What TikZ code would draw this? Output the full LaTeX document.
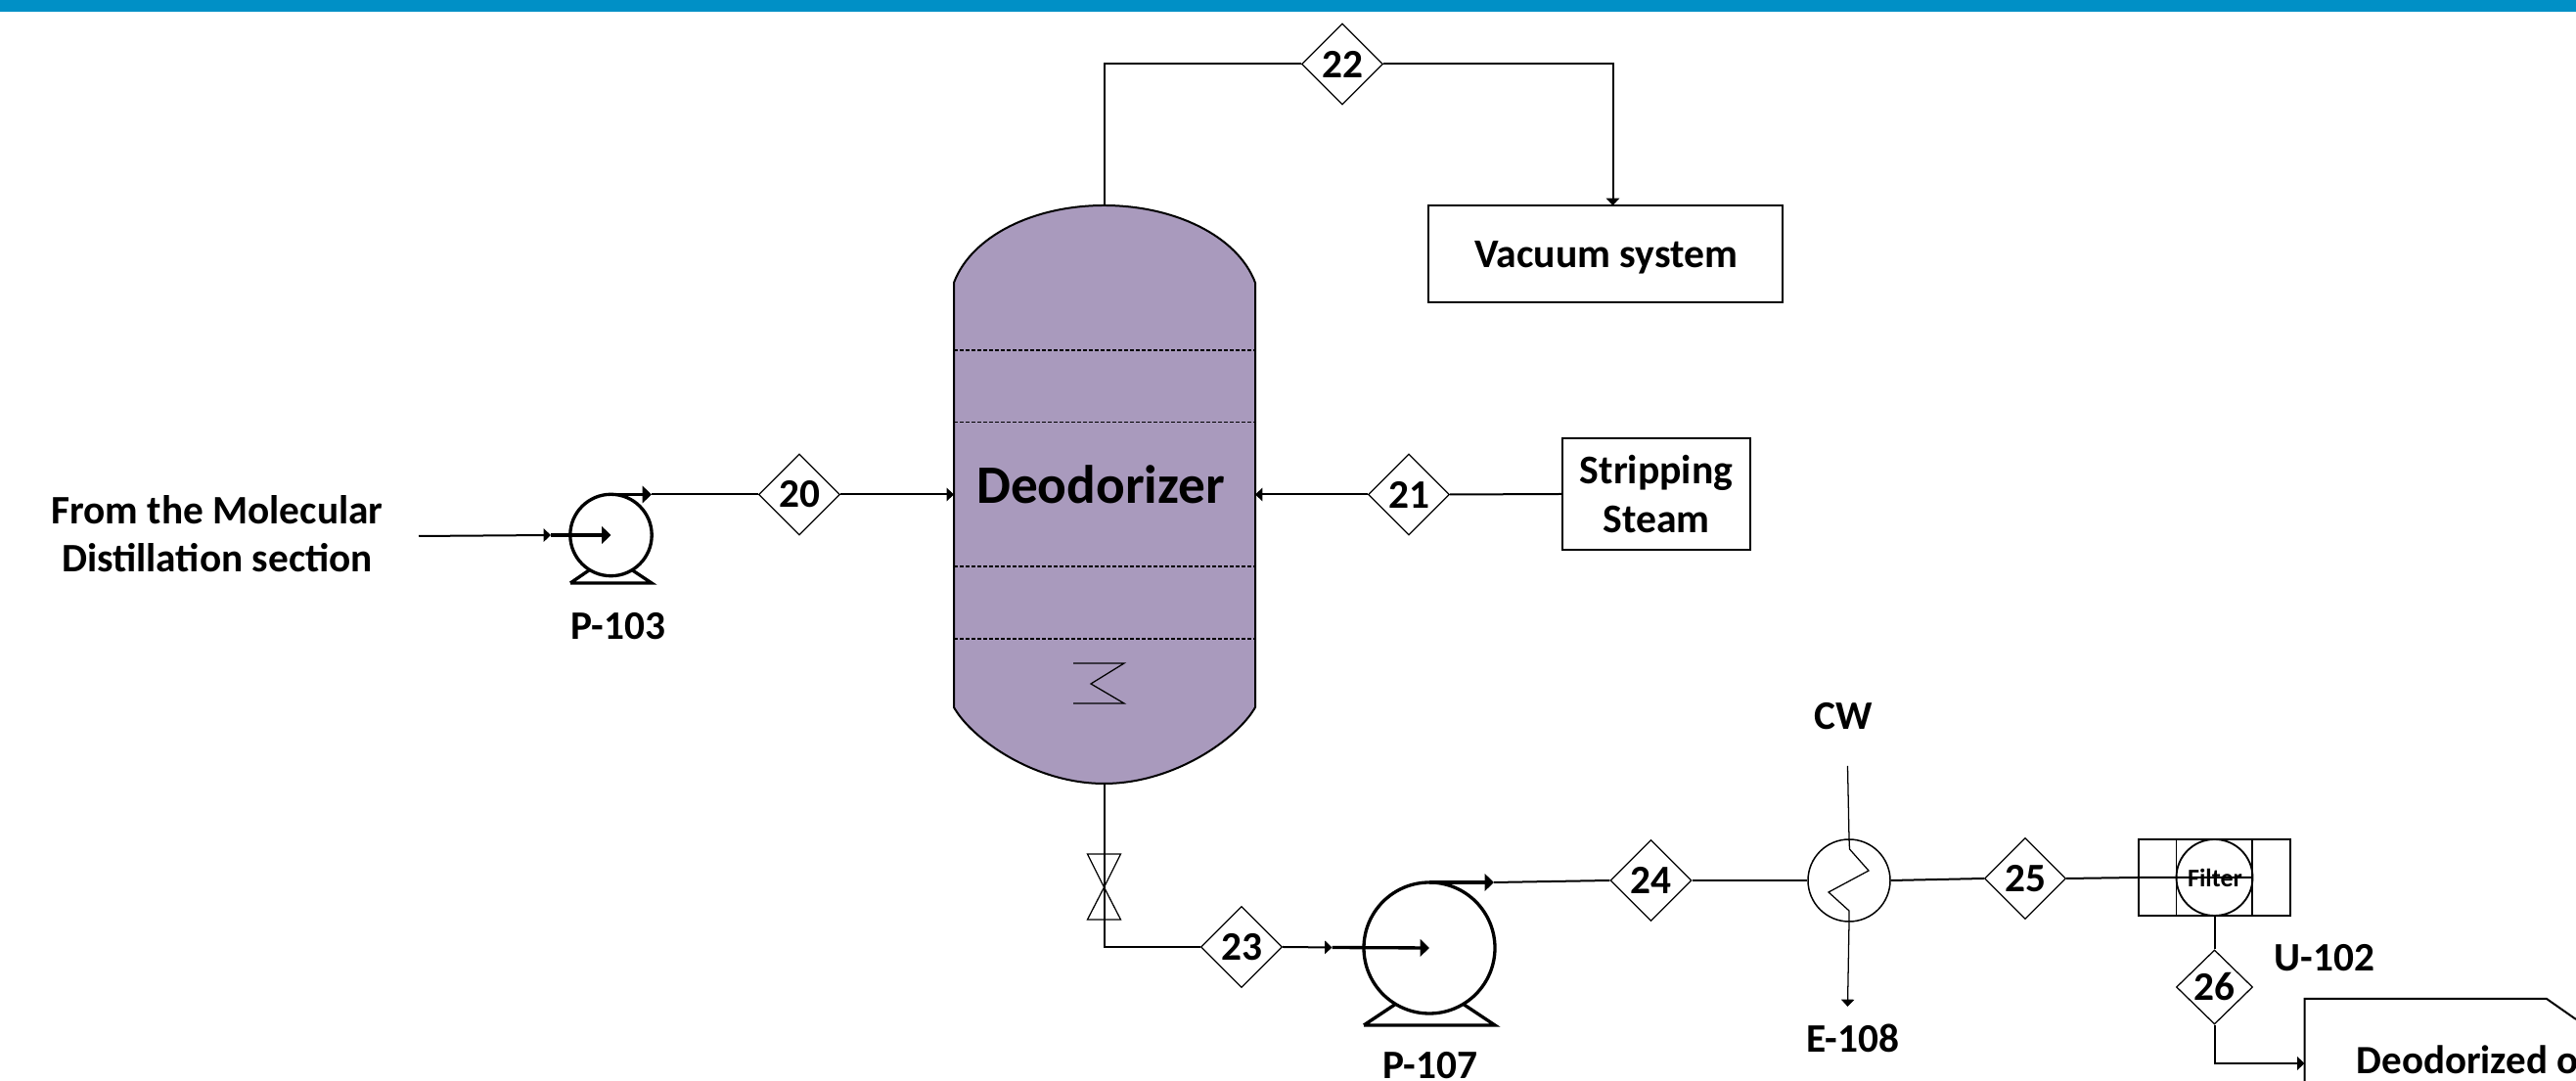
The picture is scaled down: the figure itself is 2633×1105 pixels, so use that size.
\documentclass[tikz,border=0pt]{standalone}
\usepackage{fontspec}
\setmainfont{Carlito}
\usetikzlibrary{arrows.meta,shapes.geometric}
\definecolor{vessel}{HTML}{A99ABD}
\definecolor{band}{HTML}{0090C6}
\tikzset{
  pipe/.style={draw=black,line width=0.6pt},
  thin pipe/.style={draw=black,line width=0.38pt},
  pumpline/.style={draw=black,line width=1pt},
  flow/.style={-{Triangle[length=2.2pt,width=4pt]}},
  bigflow/.style={-{Triangle[length=2.8pt,width=5.2pt]}},
  tag/.style={font=\bfseries\fontsize{12.4}{14.7}\selectfont,inner sep=0pt,align=center},
  stream/.style={diamond,draw=black,line width=0.38pt,fill=white,inner sep=0pt,minimum width=24.9pt,minimum height=24.9pt,font=\bfseries\fontsize{12.4}{12.4}\selectfont},
  boxed/.style={draw=black,line width=0.55pt,fill=white,inner sep=0pt,align=center,font=\bfseries\fontsize{12.5}{15}\selectfont},
}
\begin{document}
\begin{tikzpicture}[x=0.3pt,y=-0.3pt]
\useasboundingbox (0,0) rectangle (2633,1105);
\clip (0,0) rectangle (2633,1105);
\fill[band] (0,0) rectangle (2633,12);
% vessel
\draw[fill=vessel,line width=0.6pt] (975,289) .. controls (993,241) and (1057,210) .. (1128.5,210) .. controls (1200,210) and (1265,241) .. (1283,289) -- (1283,723) .. controls (1265,755) and (1200,801) .. (1128.5,801) .. controls (1057,801) and (993,755) .. (975,723) -- cycle;
\coordinate (vtop) at (1128.5,210);
\coordinate (vbot) at (1128.5,801);
\coordinate (vl) at (975,505.5);
\coordinate (vr) at (1283,505.5);
\foreach \yy in {358,431.5,579,653} \draw[thin pipe,dash pattern=on 1.2pt off 0.6pt] (975,\yy) -- (1283,\yy);
\draw[thin pipe] (1097,678) -- (1149,678) -- (1115,699) -- (1149,719) -- (1097,719);
\node[inner sep=0pt,font=\bfseries\fontsize{16.6}{16.6}\selectfont] (deo) at (1125,495.5) {Deodorizer};
% stream 22
\node[stream] (s22) at (1372,65.5) {22};
\node[boxed,minimum width=108.6pt,minimum height=29.7pt] (vac) at (1641,259.5) {};
\node[inner sep=0pt,font=\bfseries\fontsize{12.5}{15}\selectfont] (vacl) at (1642,263) {Vacuum system};
\coordinate (vacin) at (1648.5,210);
\draw[pipe] (vtop) |- (s22.west);
\draw[pipe,flow] (s22.east) -| (vacin);
% feed
\node[tag] (feed) at (222,546) {From the Molecular\\Distillation section};
\coordinate (fin) at (428,548);
\coordinate (p1c) at (624.5,547);
\coordinate (p1in) at (563,547);
\coordinate (p1t) at (624.5,505.5);
\coordinate (p1o) at (666,505.5);
\draw[pumpline] (583,596) -- (666,596) -- (646.5,583) (583,596) -- (602,583);
\draw[pumpline,fill=white] (p1c) circle [radius=41.7];
\draw[pipe,flow] (fin) -- (p1in);
\draw[pumpline,bigflow] (p1in) -- (p1c);
\node[stream] (s20) at (817,505.5) {20};
\draw[pumpline,bigflow] (p1t) -- (p1o);
\draw[pipe] (p1o) -- (s20.west);
\draw[pipe,flow] (s20.east) -- (vl);
\node[tag] (p103) at (632,640) {P-103};
% stream 21
\node[boxed,minimum width=57.6pt,minimum height=34.2pt] (steam) at (1693,505) {Stripping\\Steam};
\node[stream] (s21) at (1440,505.5) {21};
\draw[pipe] (steam.west) -- (s21.east);
\draw[pipe,flow] (s21.west) -- (vr);
% bottoms
\coordinate (vc) at (1128.5,907);
\draw[thin pipe] (vc) -- (1111.5,873) -- (1145.5,873) -- (vc) -- (1111.5,940) -- (1145.5,940) -- cycle;
\node[stream] (s23) at (1269,968) {23};
\draw[pipe] (vbot) |- (s23.west);
\coordinate (p2c) at (1461,969);
\coordinate (p2in) at (1361.5,968.5);
\coordinate (p2t) at (1461,902);
\coordinate (p2o) at (1527,902);
\draw[pipe,flow] (s23.east) -- (p2in);
\draw[pumpline] (1394,1048) -- (1528,1048) -- (1495,1026) (1394,1048) -- (1427,1026);
\draw[pumpline,fill=white] (p2c) circle [radius=67];
\draw[pumpline,bigflow] (p2in) -- (p2c);
\draw[pumpline,bigflow] (p2t) -- (p2o);
\node[tag] (p107) at (1462,1089) {P-107};
\node[stream] (s24) at (1687.5,900) {24};
\draw[pipe] (p2o) -- (s24.west);
% exchanger
\node[draw=black,line width=0.45pt,circle,fill=white,minimum size=25.2pt,inner sep=0pt] (e108) at (1890,900) {};
\draw[pipe] (s24.east) -- (e108.west);
\coordinate (cwin) at (1888.5,783);
\coordinate (cwout) at (1888.5,1029);
\draw[thin pipe] (cwin) -- (e108.north) -- (1890.5,868) -- (1910,890) -- (1869,912) -- (1890,931) -- (e108.south);
\draw[thin pipe,flow] (e108.south) -- (cwout);
\node[tag] (cw) at (1884,732) {CW};
\node[tag] (e108l) at (1894,1061) {E-108};
\node[stream] (s25) at (2070,898) {25};
\draw[pipe] (e108.east) -- (s25.west);
% filter
\node[draw=black,line width=0.55pt,minimum width=46.5pt,minimum height=23.4pt,inner sep=0pt] (filt) at (2263.5,897) {};
\draw[line width=0.55pt] (2224.5,858) rectangle (2302,936);
\draw[line width=0.55pt] (2263.5,897) circle [radius=39];
\draw[pipe] (s25.east) -- (filt.west) -- (2302,897);
\node[inner sep=0pt,font=\bfseries\fontsize{7.8}{7.8}\selectfont] (filtl) at (2264,897) {Filter};
\node[tag] (u102) at (2376,979) {U-102};
\node[stream,minimum width=23.4pt,minimum height=22.8pt] (s26) at (2263.5,1009) {26};
\draw[pipe] (filt.south) -- (s26.north);
% product
\draw[pipe] (2355.5,1105) -- (2355.5,1021) -- (2603,1021) -- (2633,1042);
\coordinate (prod) at (2355.5,1087);
\draw[pipe,flow] (s26.south) |- (prod);
\node[inner sep=0pt,font=\bfseries\fontsize{12.3}{12.3}\selectfont,anchor=base west] (doil) at (2408,1098) {Deodorized o};
\end{tikzpicture}
\end{document}
